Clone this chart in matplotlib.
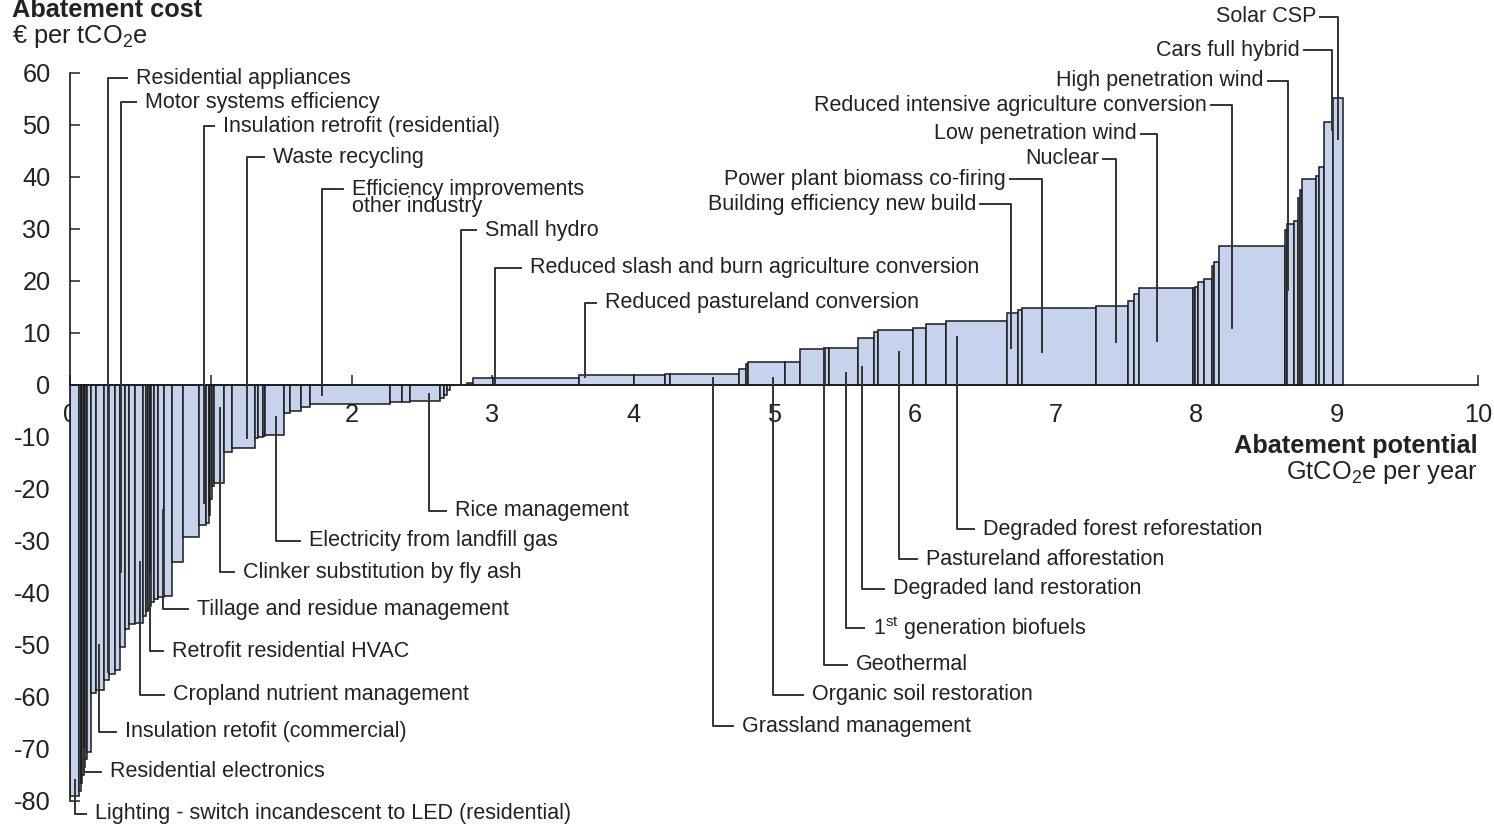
import numpy as np
import matplotlib
matplotlib.use('Agg')
import matplotlib.pyplot as plt

plt.rcParams['font.family'] = ['Liberation Sans', 'DejaVu Sans']
plt.rcParams['mathtext.fontset'] = 'custom'
plt.rcParams['mathtext.rm'] = 'Liberation Sans'
plt.rcParams['mathtext.it'] = 'Liberation Sans:italic'
plt.rcParams['mathtext.bf'] = 'Liberation Sans:bold'

"abatement levers, left to right: width = potential (GtCO2e/yr), height = cost (EUR/tCO2e)"
widths = [0.064, 0.011, 0.011, 0.011, 0.011, 0.014, 0.028, 0.036, 0.057, 0.036,
          0.043, 0.036, 0.036, 0.028, 0.043, 0.057, 0.021, 0.011, 0.011, 0.007,
          0.028, 0.028, 0.043, 0.057, 0.078, 0.107, 0.050, 0.021, 0.011, 0.011,
          0.014, 0.071, 0.057, 0.163, 0.021, 0.036, 0.014, 0.135, 0.043, 0.078,
          0.064, 0.568, 0.085, 0.057, 0.213, 0.028, 0.028, 0.021, 0.121, 0.036,
          0.142, 0.611, 0.391, 0.220, 0.036, 0.490, 0.050, 0.014, 0.263, 0.107,
          0.178, 0.028, 0.206, 0.114, 0.028, 0.249, 0.092, 0.142, 0.433, 0.078,
          0.028, 0.526, 0.227, 0.043, 0.036, 0.384, 0.014, 0.021, 0.043, 0.057,
          0.014, 0.036, 0.469, 0.014, 0.050, 0.028, 0.014, 0.014, 0.099, 0.021,
          0.036, 0.064, 0.071]
costs = [-79, -78, -76.5, -75, -73.5, -72, -70.5, -59.2, -58.7, -56.8,
         -55.5, -54.8, -50.4, -47, -46, -45.8, -44.5, -43.5, -43, -42.5,
         -41.7, -41.2, -40.8, -40.6, -34, -29.2, -27, -26.5, -25, -22,
         -19.5, -18.8, -12.9, -12.1, -10.2, -10.0, -9.8, -9.6, -5.4, -5.0,
         -4.2, -3.7, -3.3, -3.2, -3.0, -2.5, -1.9, -1.0, 0.0, 0.3,
         1.3, 1.3, 1.9, 1.9, 2.2, 2.2, 3.1, 4.0, 4.5, 4.5,
         6.9, 7.1, 7.1, 9.1, 10.1, 10.6, 10.9, 11.7, 12.4, 13.8,
         14.4, 14.9, 15.2, 16.1, 17.5, 18.6, 18.7, 18.8, 19.9, 20.4,
         22.8, 23.6, 26.8, 29.8, 31.0, 31.6, 36.0, 37.5, 39.6, 40.2,
         42.0, 50.5, 55.1]

x_ticks = [0, 1, 2, 3, 4, 5, 6, 7, 8, 9, 10]
y_ticks = [60, 50, 40, 30, 20, 10, 0, -10, -20, -30, -40, -50, -60, -70, -80]

"labels with text on the right of the leader: (text, x of leader, y in bar, y of leader end, x of text)"
labels_r = [
    ('Residential appliances', 0.27, -55.2, 59.0, 0.469),
    ('Motor systems efficiency', 0.362, -36.0, 54.4, 0.533),
    ('Insulation retrofit (residential)', 0.952, -22.7, 49.8, 1.087),
    ('Waste recycling', 1.257, -10.2, 43.8, 1.442),
    ('Efficiency improvements\nother industry', 1.79, -1.9, 37.7, 2.003),
    ('Small hydro', 2.777, 0.0, 29.8, 2.947),
    ('Reduced slash and burn agriculture conversion', 3.018, 0.3, 22.5, 3.267),
    ('Reduced pastureland conversion', 3.658, 1.5, 15.8, 3.80),
    ('Lighting - switch incandescent to LED (residential)', 0.036, -76.0, -82.5, 0.178),
    ('Residential electronics', 0.10, -70.0, -74.4, 0.284),
    ('Insulation retofit (commercial)', 0.206, -50.0, -66.7, 0.39),
    ('Cropland nutrient management', 0.497, -34.0, -59.6, 0.732),
    ('Retrofit residential HVAC', 0.568, -36.2, -51.2, 0.724),
    ('Tillage and residue management', 0.66, -24.0, -43.1, 0.902),
    ('Clinker substitution by fly ash', 1.065, -4.4, -36.0, 1.229),
    ('Electricity from landfill gas', 1.463, -6.2, -30.0, 1.697),
    ('Rice management', 2.55, -1.7, -24.2, 2.734),
    ('Grassland management', 4.567, 1.3, -65.6, 4.773),
    ('Organic soil restoration', 4.993, 1.3, -59.6, 5.27),
    ('Geothermal', 5.355, 7.1, -53.8, 5.582),
    ('1$^{\\mathrm{st}}$ generation biofuels', 5.511, 2.3, -46.7, 5.703),
    ('Degraded land restoration', 5.625, 3.5, -39.2, 5.845),
    ('Pastureland afforestation', 5.888, 6.3, -33.5, 6.08),
    ('Degraded forest reforestation', 6.30, 9.2, -27.7, 6.484),
]

"labels with text on the left of the leader: (text, x of leader, y in bar, y of text, x of text end)"
labels_l = [
    ('Power plant biomass co-firing', 6.903, 6.3, 39.6, 6.648),
    ('Building efficiency new build', 6.683, 7.1, 34.8, 6.435),
    ('Nuclear', 7.429, 8.3, 43.5, 7.308),
    ('Low penetration wind', 7.72, 8.5, 48.3, 7.578),
    ('Reduced intensive agriculture conversion', 8.253, 11.0, 53.8, 8.075),
    ('High penetration wind', 8.651, 18.3, 58.5, 8.48),
    ('Cars full hybrid', 8.963, 49.0, 64.4, 8.736),
    ('Solar CSP', 9.006, 47.3, 70.8, 8.85),
]

bar_col = '#C5D3EC'
edge_col = '#1a1a1a'
line_col = '#333333'
txt_col = '#222222'
fs_lab = 15.5
fs_ax = 18.3

fig = plt.figure(figsize=(14.94, 8.27), dpi=100)
ax = fig.add_axes([0.04685, 0.03144, 0.9424, 0.8803])

lefts = np.concatenate([[0], np.cumsum(widths)[:-1]])
ax.bar(lefts, costs, width=widths, align='edge', color=bar_col,
       edgecolor=edge_col, linewidth=1.1, zorder=2)

ax.set_xlim(0, 10)
ax.set_ylim(-80, 60)
ax.spines['top'].set_visible(False)
ax.spines['right'].set_visible(False)
ax.spines['bottom'].set_position(('data', 0))
ax.spines['bottom'].set_zorder(3)
for s in ['left', 'bottom']:
    ax.spines[s].set_linewidth(1.2)
    ax.spines[s].set_color(edge_col)

ax.set_xticks(x_ticks)
ax.set_xticklabels([str(t) for t in x_ticks])
ax.set_yticks(y_ticks)
ax.set_yticklabels([str(t) for t in y_ticks])
ax.tick_params(axis='x', direction='in', length=7, width=1.1, pad=13,
               labelsize=fs_ax, colors=txt_col)
ax.tick_params(axis='y', direction='in', length=7, width=1.1, pad=14,
               labelsize=fs_ax, colors=txt_col)
ax.get_xticklabels()[1].set_color('#aab4c8')

# leaders and labels
for name, xl, yb, yt, xt in labels_r:
    ax.plot([xl, xl, xt - 0.065], [yb, yt, yt], color=line_col, lw=1.4,
            clip_on=False, zorder=4)
    ty = yt
    if '\n' in name:
        ty = yt - 1.75  # two lines, leader points at the first one
    ax.text(xt, ty, name, ha='left', va='center', fontsize=fs_lab,
            color=txt_col, linespacing=0.78, clip_on=False)

for name, xl, yb, yt, xt in labels_l:
    ax.plot([xt + 0.03, xl, xl], [yt, yt, yb], color=line_col, lw=1.4,
            clip_on=False, zorder=4)
    ax.text(xt, yt, name, ha='right', va='center', fontsize=fs_lab,
            color=txt_col, clip_on=False)

fig.text(12 / 1494, 1 - 10 / 827, 'Abatement cost', fontsize=fs_ax,
         fontweight='bold', color=txt_col, va='center', ha='left')
fig.text(12 / 1494, 1 - 36 / 827, '€ per tCO$_2$e', fontsize=fs_ax,
         color=txt_col, va='center', ha='left')
fig.text(1478 / 1494, 1 - 446 / 827, 'Abatement potential', fontsize=fs_ax,
         fontweight='bold', color=txt_col, va='center', ha='right')
fig.text(1478 / 1494, 1 - 472 / 827, 'GtCO$_2$e per year', fontsize=fs_ax,
         color=txt_col, va='center', ha='right')

fig.savefig('out.png', dpi=100)
